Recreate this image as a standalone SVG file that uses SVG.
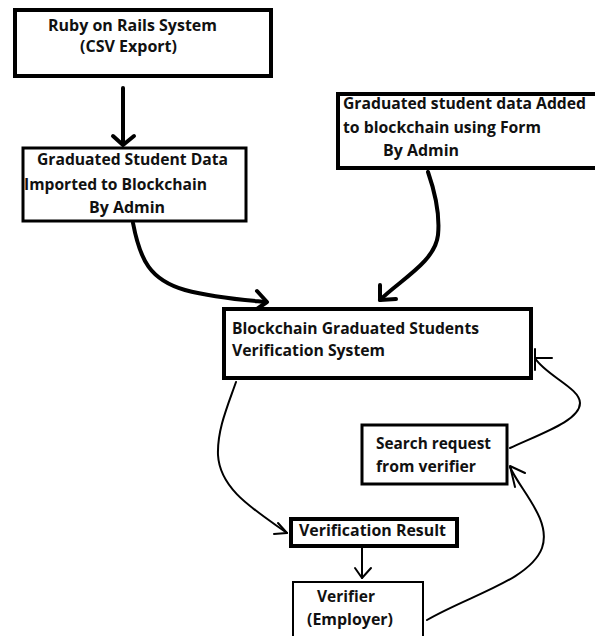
<svg xmlns="http://www.w3.org/2000/svg" width="595" height="636" viewBox="0 0 595 636">
<style>
  .box { fill: #fff; stroke: #000; }
  .t { font-family: "Open Sans", "Noto Sans", sans-serif; font-weight: bold; font-size: 16px; fill: #111; }
  .thick { fill: none; stroke: #000; stroke-width: 4; stroke-linecap: round; stroke-linejoin: round; }
  .thin { fill: none; stroke: #000; stroke-width: 2; stroke-linecap: round; stroke-linejoin: round; }
</style>
<rect width="595" height="636" fill="#fff"/>

<g id="connectors">
  <!-- Ruby -> Imported -->
  <path class="thick" d="M123,88 L123,144"/>
  <path class="thick" d="M113,136 L123,145 L134,136"/>
  <!-- Imported -> Blockchain -->
  <path class="thick" d="M133,223 C140,260 150,280 185,290 C215,298 245,300 266,302"/>
  <path class="thick" d="M257,291 L267,302 L254,311"/>
  <!-- Form -> Blockchain -->
  <path class="thick" d="M428,172 C436,195 440,215 438,235 C435,262 400,280 380,300"/>
  <path class="thick" d="M380,285 L380,300 L396,299"/>
  <!-- Blockchain -> Verification Result -->
  <path class="thin" d="M236,382 C228,405 217,430 218,455 C220,490 255,510 287,533"/>
  <path class="thin" d="M278,523 L287,533 L274,534"/>
  <!-- Verification Result -> Verifier -->
  <path class="thin" d="M362,548 L362,578"/>
  <path class="thin" d="M355,568 L362,578 L371,568"/>
  <!-- Verifier -> Search request -->
  <path class="thin" d="M427,620 C470,595 530,580 542,548 C552,520 520,490 510,467"/>
  <path class="thin" d="M525,473 L510,466 L515,487"/>
  <!-- Search request -> Blockchain -->
  <path class="thin" d="M510,448 C545,432 580,420 580,403 C580,388 545,375 535,358"/>
  <path class="thin" d="M552,358 L535,358 M535,349 L535,370"/>
</g>

<g id="ruby">
  <rect class="box" x="15" y="10" width="256" height="66" stroke-width="4"/>
  <text class="t" x="48" y="31" textLength="169" lengthAdjust="spacingAndGlyphs">Ruby on Rails System</text>
  <text class="t" x="80" y="52" textLength="97" lengthAdjust="spacingAndGlyphs">(CSV Export)</text>
</g>

<g id="imported">
  <rect class="box" x="23" y="148" width="223" height="73" stroke-width="3"/>
  <text class="t" x="37" y="165" textLength="191" lengthAdjust="spacingAndGlyphs">Graduated Student Data</text>
  <text class="t" x="24" y="190" textLength="183" lengthAdjust="spacingAndGlyphs">Imported to Blockchain</text>
  <text class="t" x="89" y="213" textLength="76" lengthAdjust="spacingAndGlyphs">By Admin</text>
</g>

<g id="form">
  <rect class="box" x="338" y="94" width="262" height="74" stroke-width="4"/>
  <text class="t" x="343" y="109" textLength="243" lengthAdjust="spacingAndGlyphs">Graduated student data Added</text>
  <text class="t" x="343" y="133" textLength="198" lengthAdjust="spacingAndGlyphs">to blockchain using Form</text>
  <text class="t" x="383" y="156" textLength="76" lengthAdjust="spacingAndGlyphs">By Admin</text>
</g>

<g id="blockchain">
  <rect class="box" x="224" y="309" width="307" height="69" stroke-width="4"/>
  <text class="t" x="232" y="334" textLength="247" lengthAdjust="spacingAndGlyphs">Blockchain Graduated Students</text>
  <text class="t" x="232" y="356" textLength="153" lengthAdjust="spacingAndGlyphs">Verification System</text>
</g>

<g id="search">
  <rect class="box" x="362" y="425" width="145" height="59" stroke-width="3"/>
  <text class="t" x="376" y="449" textLength="115" lengthAdjust="spacingAndGlyphs">Search request</text>
  <text class="t" x="376" y="472" textLength="100" lengthAdjust="spacingAndGlyphs">from verifier</text>
</g>

<g id="result">
  <rect class="box" x="291" y="519" width="166" height="27" stroke-width="4"/>
  <text class="t" x="299" y="536" textLength="147" lengthAdjust="spacingAndGlyphs">Verification Result</text>
</g>

<g id="verifier">
  <rect class="box" x="293" y="582" width="130" height="60" stroke-width="2"/>
  <text class="t" x="317" y="602" textLength="58" lengthAdjust="spacingAndGlyphs">Verifier</text>
  <text class="t" x="307" y="625" textLength="86" lengthAdjust="spacingAndGlyphs">(Employer)</text>
</g>
</svg>
